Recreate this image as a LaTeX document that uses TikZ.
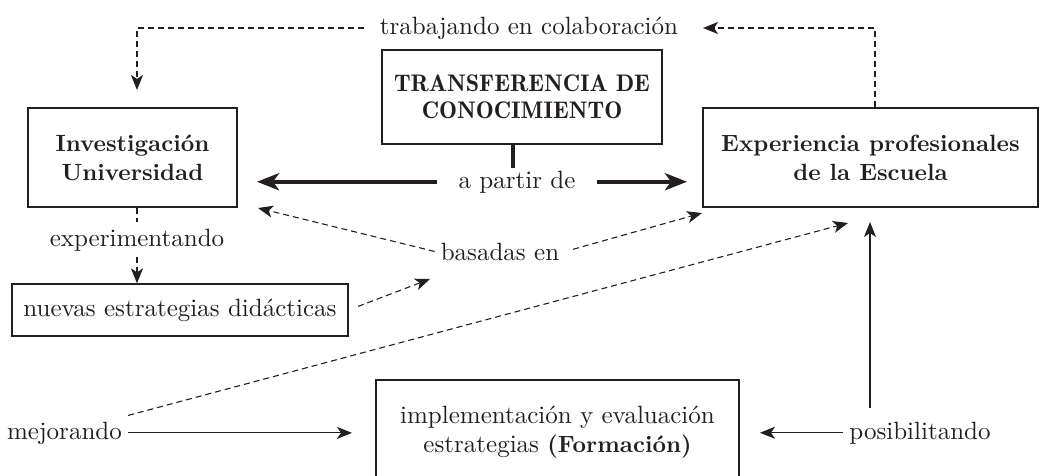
\documentclass[tikz,border=0pt]{standalone}
\usepackage{fontspec}
\setmainfont{lmroman10-regular.otf}[BoldFont=lmroman10-bold.otf, ItalicFont=lmroman10-italic.otf]
\newfontface\demifont{lmromandemi10-regular.otf}
\usetikzlibrary{arrows.meta,calc}
\definecolor{ink}{HTML}{231F20}
\newcommand\dfont{\fontsize{25}{29}\selectfont}
\newcommand\bfont{\fontsize{23.5}{29}\selectfont\bfseries}
\begin{document}
\begin{tikzpicture}[x=1pt,y=-1pt,
  every node/.style={font=\dfont, text=ink},
  box/.style={draw=ink, line width=1.3pt, align=center, inner sep=0pt},
  lbl/.style={inner sep=6pt},
  dsh/.style={draw=ink, line width=1.1pt, dash pattern=on 6pt off 4pt},
  thinln/.style={draw=ink, line width=1.2pt},
  thk/.style={draw=ink, line width=4pt},
  tipA/.style={-{Stealth[length=15pt,width=12pt,inset=4pt]}},
  tipB/.style={-{Stealth[length=22pt,width=17pt,inset=6pt]}}
]
\useasboundingbox (0,0) rectangle (1041,476);
\fill[white] (0,0) rectangle (1041,476);

% boxes
\node[box, minimum width=209pt, minimum height=99pt, font=\bfont] (inv) at (132.5,157.5) {Investigación\\Universidad};
\node[box, minimum width=280pt, minimum height=94pt, font=\demifont\fontsize{24}{27}\selectfont] (trans) at (522,97) {TRANSFERENCIA DE\\CONOCIMIENTO};
\node[box, minimum width=335pt, minimum height=99pt, font=\bfont] (exp) at (870.5,157.5) {Experiencia profesionales\\de la Escuela};
\node[box, minimum width=336pt, minimum height=52pt] (nuev) at (180,310) {nuevas estrategias didácticas};
\node[box, minimum width=363pt, minimum height=104pt] (impl) at (557.5,432) {implementación y evaluación\\estrategias {\bfont (Formación)}};

% labels
\node[lbl] (collab) at (529,28) {trabajando en colaboración};
\node[lbl, anchor=base] (apartir) at (517,188) {a partir de};
\node[lbl, anchor=base] (exper) at (137,246) {experimentando};
\node[lbl, anchor=base] (basadas) at (500,260) {basadas en};
\node[lbl, anchor=base] (mejor) at (64.5,439) {mejorando};
\node[lbl, anchor=base] (posib) at (920,439) {posibilitando};

% coordinates for free arrow ends
\coordinate (tlTip) at (137,90);
\coordinate (trTip) at (703,28);
\coordinate (stubB) at (513,168);
\coordinate (laTip) at (257,182);
\coordinate (raTip) at (687,182);
\coordinate (bI) at (258,208);
\coordinate (bE) at (702,213);
\coordinate (nB) at (430,279);
\coordinate (mE) at (848,223);
\coordinate (mI) at (352,434);
\coordinate (pI) at (760,435);
\coordinate (pE) at (870,222);

% connectors
\draw[dsh, tipA, shorten <=10pt] (collab.west) -| (tlTip);
\draw[dsh, tipA] ($(exp.north)+(4.5,0)$) |- (trTip);
\draw[thk] (trans.south -| stubB) -- (stubB);
\draw[thk, tipB, shorten <=15pt] (apartir.west) -- (apartir.west -| laTip);
\draw[thk, tipB, shorten <=15pt] (apartir.east) -- (apartir.east -| raTip);
\draw[dsh] (inv.south -| exper) -- (exper.north);
\draw[dsh, tipA] (exper.south) -- (exper.south |- nuev.north);
\draw[dsh, tipA] (basadas.west) -- (bI);
\draw[dsh, tipA, shorten <=8pt] (basadas.east) -- (bE);
\draw[dsh, tipA, shorten <=10pt] (nuev.east) -- (nB);
\draw[dsh, tipA] (mejor.north east) -- (mE);
\draw[thinln, tipA] (mejor.east) -- (mejor.east -| mI);
\draw[thinln, tipA] (posib.west) -- (posib.west -| pI);
\draw[thinln, tipA, shorten <=7pt] (pE |- posib.north) -- (pE);
\end{tikzpicture}
\end{document}
